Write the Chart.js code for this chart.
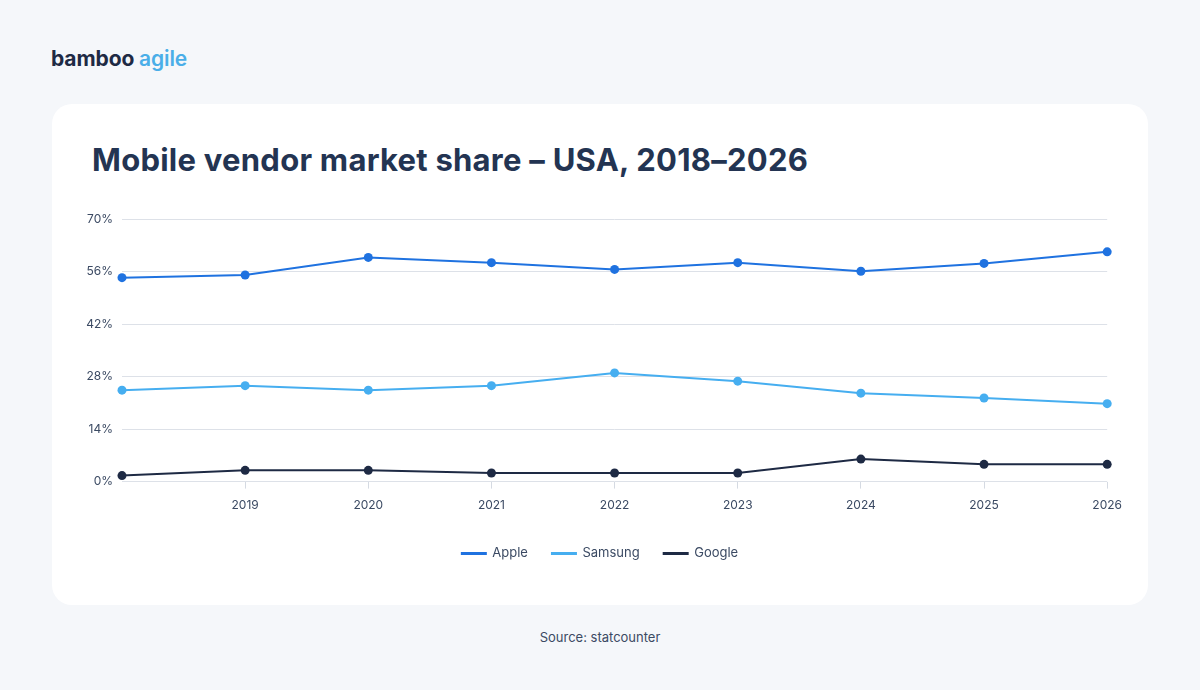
<!DOCTYPE html>
<html lang="en">
<head>
  <meta charset="UTF-8">
  <script src="https://cdn.jsdelivr.net/npm/chart.js"></script>
  <style>
    body, html {
      margin: 0;
      padding: 0;
      width: 1200px;
      height: 690px;
      background-color: #f5f7fa;
      font-family: 'Inter', sans-serif;
      overflow: hidden;
    }

    .logo {
      position: absolute;
      left: 51px;
      top: 46px;
      font-size: 21px;
      font-weight: 700;
      letter-spacing: -0.1px;
      color: #1e2a44;
    }

    .logo span {
      color: #4aaee8;
      font-weight: 600;
    }

    .card {
      position: absolute;
      left: 52px;
      top: 104px;
      width: 1096px;
      height: 501px;
      background: #fff;
      border-radius: 20px;
    }

    .title {
      position: absolute;
      left: 92px;
      top: 141px;
      margin: 0;
      font-size: 31px;
      font-weight: 700;
      letter-spacing: 0.25px;
      color: #233452;
      white-space: nowrap;
    }

    /* canvas centred on the page so the legend centres at x=600 */
    .chart-box {
      position: absolute;
      left: 68px;
      top: 203px;
      width: 1064px;
      height: 367px;
    }

    .source {
      position: absolute;
      left: 0;
      width: 1200px;
      top: 629px;
      text-align: center;
      font-size: 13px;
      color: #3b4a63;
    }
  </style>
</head>
<body>
  <div class="logo">bamboo <span>agile</span></div>
  <div class="card"></div>
  <h1 class="title">Mobile vendor market share – USA, 2018–2026</h1>
  <div class="chart-box">
    <canvas id="share-chart"></canvas>
  </div>
  <div class="source">Source: statcounter</div>

  <script>
    const years = ['2018', '2019', '2020', '2021', '2022', '2023', '2024', '2025', '2026'];
    const apple = [54.4, 55.1, 59.8, 58.4, 56.6, 58.4, 56.1, 58.2, 61.3];
    const samsung = [24.4, 25.6, 24.4, 25.6, 29.0, 26.8, 23.6, 22.3, 20.8];
    const google = [1.6, 3.0, 3.0, 2.3, 2.3, 2.3, 6.0, 4.6, 4.6];
    const yTicks = [0, 14, 28, 42, 56, 70];

    const textColor = '#3b4a63';

    function series(label, data, color) {
      return {
        label: label,
        data: data,
        borderColor: color,
        backgroundColor: color,
        borderWidth: 2,
        pointRadius: 4.5,
        pointBorderWidth: 0,
        pointHoverRadius: 5,
        tension: 0
      };
    }

    const shareChartElement = document.getElementById('share-chart');

    new Chart(shareChartElement, {
      type: 'line',
      data: {
        labels: years,
        datasets: [
          series('Apple', apple, '#1f72e0'),
          series('Samsung', samsung, '#46aef0'),
          series('Google', google, '#1e2a44')
        ]
      },
      options: {
        responsive: true,
        maintainAspectRatio: false,
        animation: false,
        layout: {
          padding: 0
        },
        plugins: {
          tooltip: { enabled: false },
          legend: {
            position: 'bottom',
            labels: {
              boxWidth: 24,
              boxHeight: 1,
              padding: 24,
              color: textColor,
              font: { family: 'Inter', size: 13 }
            }
          }
        },
        scales: {
          x: {
            offset: false,
            grid: {
              drawOnChartArea: false,
              drawTicks: true,
              tickLength: 7,
              tickColor: (ctx) => ctx.index === 0 ? 'rgba(0,0,0,0)' : '#d5dae2'
            },
            border: { display: false },
            ticks: {
              color: textColor,
              padding: 10,
              maxRotation: 0,
              autoSkip: false,
              font: { family: 'Inter', size: 12 },
              callback: function (value, index) {
                return index === 0 ? '' : this.getLabelForValue(value);
              }
            }
          },
          y: {
            min: 0,
            max: 70,
            afterBuildTicks: (scale) => {
              scale.ticks = yTicks.map(v => ({ value: v }));
            },
            afterFit: (scale) => {
              scale.width = 54;
            },
            grid: {
              color: '#dde1e8',
              drawTicks: false
            },
            border: { display: false },
            ticks: {
              color: textColor,
              padding: 9,
              font: { family: 'Inter', size: 12 },
              callback: (v) => v + '%'
            }
          }
        }
      }
    });
  </script>
</body>
</html>
